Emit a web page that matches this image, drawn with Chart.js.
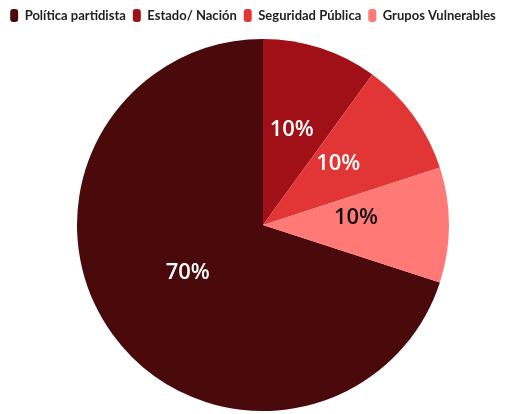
<!DOCTYPE html>
<html>
<head>
<meta charset="utf-8">
<script src="https://cdn.jsdelivr.net/npm/chart.js@4"></script>
<style>
html,body{margin:0;padding:0;background:#fff;}
#wrap{width:506px;height:414px;}
</style>
</head>
<body>
<div id="wrap"><canvas id="c" width="506" height="414"></canvas></div>
<script>
const categories = ["Política partidista", "Estado/ Nación", "Seguridad Pública", "Grupos Vulnerables"];
const values = [70, 10, 10, 10];
const colors = ["#4a0a0b", "#a01016", "#e23636", "#ff7a77"];
const labelColors = ["#ffffff", "#ffffff", "#ffffff", "#111111"];

const shiftArea = {
  id: 'shiftArea',
  afterLayout(chart) {
    const a = chart.chartArea;
    a.left += 20;
    a.top += 7;
    a.width = a.right - a.left;
    a.height = a.bottom - a.top;
  }
};

const pctLabels = {
  id: 'pctLabels',
  afterDatasetsDraw(chart) {
    const ctx = chart.ctx;
    const meta = chart.getDatasetMeta(0);
    const total = values.reduce((a, b) => a + b, 0);
    ctx.save();
    ctx.font = '600 22px "Open Sans"';
    ctx.textAlign = 'center';
    ctx.textBaseline = 'middle';
    meta.data.forEach((arc, i) => {
      const p = arc.tooltipPosition();
      ctx.fillStyle = labelColors[i];
      ctx.fillText(Math.round(values[i] / total * 100) + '%', p.x, p.y - 7);
    });
    ctx.restore();
  }
};

new Chart(document.getElementById('c'), {
  type: 'pie',
  data: {
    labels: categories,
    datasets: [{
      data: values,
      backgroundColor: colors,
      borderWidth: 0
    }]
  },
  options: {
    responsive: false,
    animation: false,
    rotation: 108,
    layout: { padding: { left: 0, right: 0, top: 2, bottom: 3 } },
    plugins: {
      tooltip: { enabled: false },
      legend: {
        position: 'top',
        labels: {
          boxWidth: 8,
          boxHeight: 13,
          useBorderRadius: true,
          borderRadius: 3,
          padding: 7,
          color: '#222',
          font: { family: 'Lato', size: 13, weight: 'bold' }
        }
      }
    }
  },
  plugins: [shiftArea, pctLabels]
});
</script>
</body>
</html>
